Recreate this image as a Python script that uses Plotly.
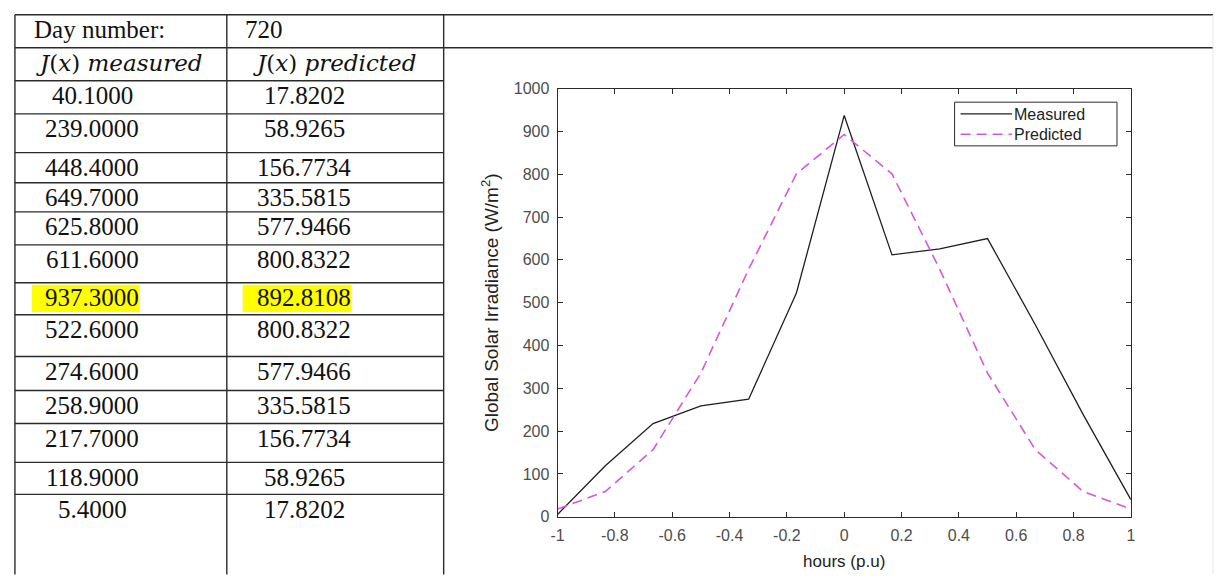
import plotly.graph_objects as go

# ---------------- data ----------------
day_number = 720
measured_table = [40.1, 239.0, 448.4, 649.7, 625.8, 611.6, 937.3, 522.6, 274.6, 258.9, 217.7, 118.9, 5.4]
predicted_table = [17.8202, 58.9265, 156.7734, 335.5815, 577.9466, 800.8322, 892.8108,
                   800.8322, 577.9466, 335.5815, 156.7734, 58.9265, 17.8202]
hours = [-1.0, -0.8333, -0.6667, -0.5, -0.3333, -0.1667, 0.0,
         0.1667, 0.3333, 0.5, 0.6667, 0.8333, 1.0]
# the plotted measured curve runs the table column in reverse order
measured_plot = measured_table[::-1]
predicted_plot = predicted_table[::-1]
series_names = ["Measured", "Predicted"]
highlight_row = 6
x_ticks = [-1, -0.8, -0.6, -0.4, -0.2, 0, 0.2, 0.4, 0.6, 0.8, 1]
x_tick_text = ["-1", "-0.8", "-0.6", "-0.4", "-0.2", "0", "0.2", "0.4", "0.6", "0.8", "1"]
y_ticks = [0, 100, 200, 300, 400, 500, 600, 700, 800, 900, 1000]

# ---------------- layout helpers ----------------
W, H = 1222, 584
def px(x):
    return min(max(x / W, 0.0005), 0.9995)
def py(y):
    return min(max(1 - y / H, 0.001), 0.999)

meas_col = "#1f1f1f"
pred_col = "#d35ad6"
pred_dash = "10px,6px"

fig = go.Figure()
fig.add_trace(go.Scatter(x=hours, y=measured_plot, mode="lines", name=series_names[0],
                         line=dict(color=meas_col, width=1.3), showlegend=False))
fig.add_trace(go.Scatter(x=hours, y=predicted_plot, mode="lines", name=series_names[1],
                         line=dict(color=pred_col, width=1.6, dash=pred_dash), showlegend=False))

shapes = []
annotations = []
line_col = "#2b2b2b"

# table grid
row_tops = [7, 41, 75, 109, 149, 180, 210, 244, 283, 316, 359, 394, 428, 468, 501]
for i, y in enumerate(row_tops):
    x1 = 1218 if i < 2 else 441
    shapes.append(dict(type="line", xref="paper", yref="paper", x0=px(8), x1=px(x1),
                       y0=py(y), y1=py(y), line=dict(color=line_col, width=1.4)))
for x in [8, 222, 441]:
    shapes.append(dict(type="line", xref="paper", yref="paper", x0=px(x), x1=px(x),
                       y0=py(7), y1=py(600), line=dict(color=line_col, width=1.4)))
shapes.append(dict(type="line", xref="paper", yref="paper", x0=px(1218), x1=px(1218),
                   y0=py(7), y1=py(600), line=dict(color="#e8e8e8", width=1)))

# highlights
hy = row_tops[2 + highlight_row]
for x0, x1 in [(25, 134), (238, 348)]:
    shapes.append(dict(type="rect", xref="paper", yref="paper", x0=px(x0), x1=px(x1),
                       y0=py(hy + 2), y1=py(hy + 30), fillcolor="#ffff00",
                       line=dict(width=0), layer="below"))

serif = "Liberation Serif, Times New Roman, serif"
def txt(x, y, s, anchor="center", family=serif, size=25, color="#111111"):
    annotations.append(dict(xref="paper", yref="paper", x=px(x), y=py(y), text=s,
                            showarrow=False, xanchor=anchor, yanchor="middle",
                            font=dict(family=family, size=size, color=color)))

txt(25, row_tops[0] + 15.5, "Day number:", anchor="left")
txt(238, row_tops[0] + 15.5, str(day_number), anchor="left")
txt(114, row_tops[1] + 16, "<i>J</i>(<i>x</i>) <i>measured</i>", family="DejaVu Serif", size=23)
txt(331, row_tops[1] + 16, "<i>J</i>(<i>x</i>) <i>predicted</i>", family="DejaVu Serif", size=23)
for i, (m, p) in enumerate(zip(measured_table, predicted_table)):
    top = row_tops[2 + i]
    txt(86, top + 15.5, f"{m:.4f}")
    txt(300, top + 15.5, f"{p:.4f}")

# legend box (MATLAB style: sample line touching the label)
sans = "Liberation Sans, Arial, sans-serif"
shapes.append(dict(type="rect", xref="paper", yref="paper", x0=px(957), x1=px(1121),
                   y0=py(142), y1=py(97), fillcolor="white",
                   line=dict(color=line_col, width=1)))
for yy, col, dash, w in [(109, meas_col, "solid", 1.3), (130, pred_col, pred_dash, 1.6)]:
    shapes.append(dict(type="line", xref="paper", yref="paper", x0=px(963), x1=px(1015),
                       y0=py(yy), y1=py(yy), line=dict(color=col, width=w, dash=dash)))
txt(1015, 110, series_names[0], anchor="left", family=sans, size=16, color="#222222")
txt(1015, 130, series_names[1], anchor="left", family=sans, size=16, color="#222222")

axis_common = dict(showline=True, linecolor="#2b2b2b", linewidth=1, mirror="allticks",
                   ticks="inside", ticklen=5, tickcolor="#2b2b2b", showgrid=False,
                   zeroline=False, ticklabelstandoff=4,
                   tickfont=dict(family=sans, size=16, color="#4d4d4d"))

fig.update_layout(
    width=W, height=H, margin=dict(l=0, r=0, t=0, b=0),
    paper_bgcolor="white", plot_bgcolor="white",
    xaxis=dict(domain=[px(556), px(1135)], range=[-1, 1], tickvals=x_ticks,
               ticktext=x_tick_text,
               title=dict(text="hours (p.u)", font=dict(family=sans, size=17, color="#222222"),
                          standoff=12),
               **axis_common),
    yaxis=dict(domain=[py(524), py(83)], range=[0, 1000], tickvals=y_ticks,
               title=dict(text="Global Solar Irradiance (W/m<sup>2</sup>)",
                          font=dict(family=sans, size=19, color="#222222"), standoff=10),
               **axis_common),
    showlegend=False,
    shapes=shapes, annotations=annotations,
)

page_fix = ("document.documentElement.style.overflow='hidden';"
            "document.body.style.margin='0';"
            "document.body.style.overflow='hidden';"
            "document.body.style.height='584px';")
fig.write_html("out.html", config={"displayModeBar": False}, post_script=page_fix)
